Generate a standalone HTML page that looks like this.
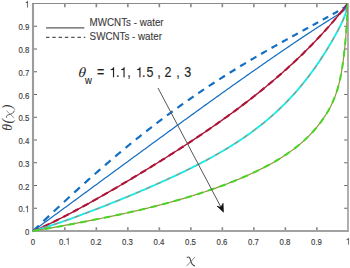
<!DOCTYPE html>
<html><head><meta charset="utf-8"><style>
html,body{margin:0;padding:0;background:#fff;}
body{width:350px;height:268px;overflow:hidden;font-family:"Liberation Sans",sans-serif;}
svg{display:block;}
</style></head><body>
<svg width="350" height="268" viewBox="0 0 350 268">
<path d="M33.0,231.0 H348.0" stroke="#a2a2a2" stroke-width="2.0"/>
<path d="M33.0,232.1 V3.5" stroke="#9c9c9c" stroke-width="2.1"/>
<path d="M32.0,3.5 H348.0" stroke="#8a8a8a" stroke-width="1.2"/>
<path d="M348.0,2.9 V232.1" stroke="#9c9c9c" stroke-width="1.6"/>
<path d="M64.85,230.0 v-2.8 M64.85,4.0 v3.3 M96.35,230.0 v-2.8 M96.35,4.0 v3.3 M127.85,230.0 v-2.8 M127.85,4.0 v3.3 M159.35,230.0 v-2.8 M159.35,4.0 v3.3 M190.85,230.0 v-2.8 M190.85,4.0 v3.3 M222.35,230.0 v-2.8 M222.35,4.0 v3.3 M253.85,230.0 v-2.8 M253.85,4.0 v3.3 M285.35,230.0 v-2.8 M285.35,4.0 v3.3 M316.85,230.0 v-2.8 M316.85,4.0 v3.3" stroke="#888" stroke-width="1.6" fill="none"/>
<path d="M34.0,208.25 h3 M347.2,208.25 h-3 M34.0,185.50 h3 M347.2,185.50 h-3 M34.0,162.75 h3 M347.2,162.75 h-3 M34.0,140.00 h3 M347.2,140.00 h-3 M34.0,117.25 h3 M347.2,117.25 h-3 M34.0,94.50 h3 M347.2,94.50 h-3 M34.0,71.75 h3 M347.2,71.75 h-3 M34.0,49.00 h3 M347.2,49.00 h-3 M34.0,26.25 h3 M347.2,26.25 h-3" stroke="#666" stroke-width="1.2" fill="none"/>
<g transform="translate(0,244.60) scale(1,1.22)" fill="#3a3a3a" stroke="#3a3a3a" stroke-width="0.12"><text y="0" font-family="Liberation Sans" font-size="7.8"><tspan x="30.83">0</tspan></text></g><g transform="translate(0,235.10) scale(1,1.22)" fill="#3a3a3a" stroke="#3a3a3a" stroke-width="0.12"><text y="0" font-family="Liberation Sans" font-size="7.8"><tspan x="24.91">0</tspan></text></g><g transform="translate(0,244.60) scale(1,1.22)" fill="#3a3a3a" stroke="#3a3a3a" stroke-width="0.12"><text y="0" font-family="Liberation Sans" font-size="7.8"><tspan x="59.08">0</tspan><tspan x="63.42">.</tspan></text><path d="M68.52,0 L68.52,-5.48 L68.06,-5.48 C67.92,-4.91 67.46,-4.56 66.44,-4.45 L66.44,-3.98 L67.89,-3.98 L67.89,0 Z"/></g><g transform="translate(0,212.35) scale(1,1.22)" fill="#3a3a3a" stroke="#3a3a3a" stroke-width="0.12"><text y="0" font-family="Liberation Sans" font-size="7.8"><tspan x="18.41">0</tspan><tspan x="22.74">.</tspan></text><path d="M27.84,0 L27.84,-5.48 L27.39,-5.48 C27.25,-4.91 26.78,-4.56 25.77,-4.45 L25.77,-3.98 L27.22,-3.98 L27.22,0 Z"/></g><g transform="translate(0,244.60) scale(1,1.22)" fill="#3a3a3a" stroke="#3a3a3a" stroke-width="0.12"><text y="0" font-family="Liberation Sans" font-size="7.8"><tspan x="90.58">0</tspan><tspan x="94.92">.</tspan><tspan x="97.08">2</tspan></text></g><g transform="translate(0,189.60) scale(1,1.22)" fill="#3a3a3a" stroke="#3a3a3a" stroke-width="0.12"><text y="0" font-family="Liberation Sans" font-size="7.8"><tspan x="18.41">0</tspan><tspan x="22.74">.</tspan><tspan x="24.91">2</tspan></text></g><g transform="translate(0,244.60) scale(1,1.22)" fill="#3a3a3a" stroke="#3a3a3a" stroke-width="0.12"><text y="0" font-family="Liberation Sans" font-size="7.8"><tspan x="122.08">0</tspan><tspan x="126.42">.</tspan><tspan x="128.58">3</tspan></text></g><g transform="translate(0,166.85) scale(1,1.22)" fill="#3a3a3a" stroke="#3a3a3a" stroke-width="0.12"><text y="0" font-family="Liberation Sans" font-size="7.8"><tspan x="18.41">0</tspan><tspan x="22.74">.</tspan><tspan x="24.91">3</tspan></text></g><g transform="translate(0,244.60) scale(1,1.22)" fill="#3a3a3a" stroke="#3a3a3a" stroke-width="0.12"><text y="0" font-family="Liberation Sans" font-size="7.8"><tspan x="153.58">0</tspan><tspan x="157.92">.</tspan><tspan x="160.08">4</tspan></text></g><g transform="translate(0,144.10) scale(1,1.22)" fill="#3a3a3a" stroke="#3a3a3a" stroke-width="0.12"><text y="0" font-family="Liberation Sans" font-size="7.8"><tspan x="18.41">0</tspan><tspan x="22.74">.</tspan><tspan x="24.91">4</tspan></text></g><g transform="translate(0,244.60) scale(1,1.22)" fill="#3a3a3a" stroke="#3a3a3a" stroke-width="0.12"><text y="0" font-family="Liberation Sans" font-size="7.8"><tspan x="185.08">0</tspan><tspan x="189.42">.</tspan><tspan x="191.58">5</tspan></text></g><g transform="translate(0,121.35) scale(1,1.22)" fill="#3a3a3a" stroke="#3a3a3a" stroke-width="0.12"><text y="0" font-family="Liberation Sans" font-size="7.8"><tspan x="18.41">0</tspan><tspan x="22.74">.</tspan><tspan x="24.91">5</tspan></text></g><g transform="translate(0,244.60) scale(1,1.22)" fill="#3a3a3a" stroke="#3a3a3a" stroke-width="0.12"><text y="0" font-family="Liberation Sans" font-size="7.8"><tspan x="216.58">0</tspan><tspan x="220.92">.</tspan><tspan x="223.08">6</tspan></text></g><g transform="translate(0,98.60) scale(1,1.22)" fill="#3a3a3a" stroke="#3a3a3a" stroke-width="0.12"><text y="0" font-family="Liberation Sans" font-size="7.8"><tspan x="18.41">0</tspan><tspan x="22.74">.</tspan><tspan x="24.91">6</tspan></text></g><g transform="translate(0,244.60) scale(1,1.22)" fill="#3a3a3a" stroke="#3a3a3a" stroke-width="0.12"><text y="0" font-family="Liberation Sans" font-size="7.8"><tspan x="248.08">0</tspan><tspan x="252.42">.</tspan><tspan x="254.58">7</tspan></text></g><g transform="translate(0,75.85) scale(1,1.22)" fill="#3a3a3a" stroke="#3a3a3a" stroke-width="0.12"><text y="0" font-family="Liberation Sans" font-size="7.8"><tspan x="18.41">0</tspan><tspan x="22.74">.</tspan><tspan x="24.91">7</tspan></text></g><g transform="translate(0,244.60) scale(1,1.22)" fill="#3a3a3a" stroke="#3a3a3a" stroke-width="0.12"><text y="0" font-family="Liberation Sans" font-size="7.8"><tspan x="279.58">0</tspan><tspan x="283.92">.</tspan><tspan x="286.08">8</tspan></text></g><g transform="translate(0,53.10) scale(1,1.22)" fill="#3a3a3a" stroke="#3a3a3a" stroke-width="0.12"><text y="0" font-family="Liberation Sans" font-size="7.8"><tspan x="18.41">0</tspan><tspan x="22.74">.</tspan><tspan x="24.91">8</tspan></text></g><g transform="translate(0,244.60) scale(1,1.22)" fill="#3a3a3a" stroke="#3a3a3a" stroke-width="0.12"><text y="0" font-family="Liberation Sans" font-size="7.8"><tspan x="311.08">0</tspan><tspan x="315.42">.</tspan><tspan x="317.58">9</tspan></text></g><g transform="translate(0,30.35) scale(1,1.22)" fill="#3a3a3a" stroke="#3a3a3a" stroke-width="0.12"><text y="0" font-family="Liberation Sans" font-size="7.8"><tspan x="18.41">0</tspan><tspan x="22.74">.</tspan><tspan x="24.91">9</tspan></text></g><g transform="translate(0,244.60) scale(1,1.22)" fill="#3a3a3a" stroke="#3a3a3a" stroke-width="0.12"><path d="M348.76,0 L348.76,-5.48 L348.31,-5.48 C348.17,-4.91 347.70,-4.56 346.69,-4.45 L346.69,-3.98 L348.14,-3.98 L348.14,0 Z"/></g><g transform="translate(0,7.60) scale(1,1.22)" fill="#3a3a3a" stroke="#3a3a3a" stroke-width="0.12"><path d="M27.84,0 L27.84,-5.48 L27.39,-5.48 C27.25,-4.91 26.78,-4.56 25.77,-4.45 L25.77,-3.98 L27.22,-3.98 L27.22,0 Z"/></g>
<defs><clipPath id="pc"><rect x="31.5" y="3.3" width="316.5" height="229.0"/></clipPath></defs><g clip-path="url(#pc)">
<path d="M33.00,231.00 L34.32,230.04 L35.64,229.07 L36.95,228.11 L38.27,227.15 L39.59,226.19 L40.91,225.22 L42.23,224.26 L43.54,223.29 L44.86,222.33 L46.18,221.37 L47.50,220.40 L48.82,219.44 L50.13,218.47 L51.45,217.51 L52.77,216.54 L54.09,215.58 L55.41,214.61 L56.72,213.65 L58.04,212.68 L59.36,211.71 L60.68,210.75 L62.00,209.78 L63.31,208.82 L64.63,207.85 L65.95,206.88 L67.27,205.92 L68.59,204.95 L69.90,203.98 L71.22,203.02 L72.54,202.05 L73.86,201.08 L75.18,200.12 L76.49,199.15 L77.81,198.18 L79.13,197.21 L80.45,196.25 L81.77,195.28 L83.08,194.31 L84.40,193.34 L85.72,192.38 L87.04,191.41 L88.36,190.44 L89.67,189.47 L90.99,188.51 L92.31,187.54 L93.63,186.57 L94.95,185.60 L96.26,184.64 L97.58,183.67 L98.90,182.70 L100.22,181.73 L101.54,180.77 L102.85,179.80 L104.17,178.83 L105.49,177.86 L106.81,176.90 L108.13,175.93 L109.44,174.96 L110.76,173.99 L112.08,173.03 L113.40,172.06 L114.72,171.09 L116.03,170.12 L117.35,169.16 L118.67,168.19 L119.99,167.22 L121.31,166.26 L122.62,165.29 L123.94,164.32 L125.26,163.36 L126.58,162.39 L127.90,161.43 L129.21,160.46 L130.53,159.49 L131.85,158.53 L133.17,157.56 L134.49,156.60 L135.80,155.63 L137.12,154.67 L138.44,153.70 L139.76,152.74 L141.08,151.77 L142.39,150.81 L143.71,149.85 L145.03,148.88 L146.35,147.92 L147.67,146.96 L148.98,145.99 L150.30,145.03 L151.62,144.07 L152.94,143.10 L154.26,142.14 L155.57,141.18 L156.89,140.22 L158.21,139.26 L159.53,138.30 L160.85,137.34 L162.16,136.38 L163.48,135.41 L164.80,134.45 L166.12,133.50 L167.44,132.54 L168.75,131.58 L170.07,130.62 L171.39,129.66 L172.71,128.70 L174.03,127.74 L175.34,126.79 L176.66,125.83 L177.98,124.87 L179.30,123.92 L180.62,122.96 L181.93,122.01 L183.25,121.05 L184.57,120.10 L185.89,119.14 L187.21,118.19 L188.52,117.23 L189.84,116.28 L191.16,115.33 L192.48,114.38 L193.79,113.42 L195.11,112.47 L196.43,111.52 L197.75,110.57 L199.07,109.62 L200.38,108.67 L201.70,107.72 L203.02,106.78 L204.34,105.83 L205.66,104.88 L206.97,103.93 L208.29,102.99 L209.61,102.04 L210.93,101.10 L212.25,100.15 L213.56,99.21 L214.88,98.26 L216.20,97.32 L217.52,96.38 L218.84,95.44 L220.15,94.49 L221.47,93.55 L222.79,92.61 L224.11,91.67 L225.43,90.73 L226.74,89.80 L228.06,88.86 L229.38,87.92 L230.70,86.99 L232.02,86.05 L233.33,85.11 L234.65,84.18 L235.97,83.25 L237.29,82.31 L238.61,81.38 L239.92,80.45 L241.24,79.52 L242.56,78.59 L243.88,77.66 L245.20,76.73 L246.51,75.80 L247.83,74.88 L249.15,73.95 L250.47,73.03 L251.79,72.10 L253.10,71.18 L254.42,70.25 L255.74,69.33 L257.06,68.41 L258.38,67.49 L259.69,66.57 L261.01,65.65 L262.33,64.74 L263.65,63.82 L264.97,62.90 L266.28,61.99 L267.60,61.08 L268.92,60.16 L270.24,59.25 L271.56,58.34 L272.87,57.43 L274.19,56.52 L275.51,55.62 L276.83,54.71 L278.15,53.81 L279.46,52.90 L280.78,52.00 L282.10,51.10 L283.42,50.20 L284.74,49.30 L286.05,48.40 L287.37,47.51 L288.69,46.61 L290.01,45.72 L291.33,44.83 L292.64,43.93 L293.96,43.05 L295.28,42.16 L296.60,41.27 L297.92,40.39 L299.23,39.51 L300.55,38.62 L301.87,37.75 L303.19,36.87 L304.51,35.99 L305.82,35.12 L307.14,34.25 L308.46,33.38 L309.78,32.51 L311.10,31.65 L312.41,30.78 L313.73,29.92 L315.05,29.06 L316.37,28.21 L316.50,28.12 L317.69,27.35 L319.00,26.50 L319.98,25.88 L320.32,25.66 L321.64,24.81 L322.96,23.97 L323.08,23.90 L324.28,23.13 L325.59,22.30 L325.83,22.15 L326.91,21.47 L328.23,20.64 L328.28,20.61 L329.55,19.82 L330.46,19.25 L330.87,19.00 L332.18,18.18 L332.40,18.05 L333.50,17.37 L334.12,16.99 L334.82,16.56 L335.65,16.05 L336.14,15.76 L337.02,15.22 L337.46,14.95 L338.23,14.47 L338.77,14.13 L339.31,13.80 L340.09,13.30 L340.27,13.18 L341.12,12.61 L341.41,12.42 L341.88,12.08 L342.56,11.58 L342.73,11.45 L343.16,11.10 L343.70,10.64 L344.05,10.31 L344.17,10.19 L344.59,9.76 L344.97,9.33 L345.31,8.92 L345.36,8.85 L345.60,8.53 L345.87,8.14 L346.10,7.78 L346.31,7.43 L346.50,7.10 L346.67,6.79 L346.68,6.76 L346.81,6.50 L346.94,6.23 L347.06,5.97 L347.16,5.74 L347.26,5.52 L347.34,5.33 L347.41,5.15 L347.48,4.98 L347.53,4.83 L347.59,4.70 L347.63,4.57 L347.67,4.46 L347.71,4.36 L347.74,4.27 L347.77,4.19 L347.79,4.12 L347.82,4.05 L347.84,3.99 L347.86,3.94 L347.87,3.89 L347.89,3.85 L347.90,3.81 L347.91,3.78 L347.92,3.75 L347.93,3.72 L347.94,3.70 L347.94,3.67 L347.95,3.66 L347.96,3.64 L347.96,3.62 L347.96,3.61 L347.97,3.60 L348.00,3.50" stroke="#1670c2" stroke-width="1.25" fill="none"/>
<path d="M33.11,230.90 L33.93,230.14 L34.74,229.38 L35.56,228.62 L36.38,227.85 L37.19,227.09 L38.01,226.32 L38.82,225.56 M43.46,221.18 L44.27,220.42 L45.08,219.66 L45.89,218.90 L46.69,218.13 L47.50,217.37 L48.31,216.61 L49.12,215.85 M53.73,211.51 L54.54,210.76 L55.34,210.01 L56.15,209.25 L56.95,208.50 L57.76,207.75 L58.56,207.00 L59.37,206.24 M63.98,201.96 L64.78,201.22 L65.58,200.47 L66.39,199.73 L67.19,198.99 L68.00,198.25 L68.80,197.51 L69.61,196.77 M74.21,192.55 L75.01,191.82 L75.82,191.08 L76.62,190.35 L77.42,189.62 L78.23,188.89 L79.03,188.16 L79.84,187.43 M84.45,183.28 L85.25,182.56 L86.05,181.85 L86.86,181.13 L87.66,180.41 L88.47,179.69 L89.27,178.97 L90.08,178.26 M94.69,174.18 L95.50,173.48 L96.30,172.77 L97.11,172.06 L97.91,171.36 L98.72,170.65 L99.53,169.95 L100.33,169.25 M104.95,165.25 L105.76,164.55 L106.56,163.86 L107.37,163.17 L108.18,162.48 L108.99,161.79 L109.79,161.10 L110.60,160.41 M115.23,156.49 L116.04,155.81 L116.85,155.13 L117.65,154.45 L118.46,153.77 L119.27,153.10 L120.08,152.42 L120.89,151.75 M125.53,147.91 L126.34,147.24 L127.15,146.58 L127.96,145.91 L128.77,145.25 L129.58,144.59 L130.39,143.93 L131.20,143.27 M135.85,139.51 L136.66,138.86 L137.47,138.21 L138.29,137.56 L139.10,136.92 L139.91,136.27 L140.73,135.62 L141.54,134.98 M146.20,131.31 L147.01,130.67 L147.82,130.04 L148.64,129.40 L149.45,128.77 L150.27,128.14 L151.08,127.51 L151.90,126.88 M156.57,123.30 L157.38,122.68 L158.20,122.06 L159.01,121.44 L159.83,120.82 L160.65,120.20 L161.47,119.59 L162.28,118.97 M166.96,115.48 L167.78,114.87 L168.60,114.27 L169.41,113.67 L170.23,113.07 L171.05,112.46 L171.87,111.86 L172.69,111.26 M177.38,107.86 L178.20,107.27 L179.02,106.68 L179.84,106.10 L180.66,105.51 L181.48,104.92 L182.30,104.34 L183.12,103.76 M187.82,100.44 L188.64,99.87 L189.46,99.30 L190.28,98.73 L191.10,98.16 L191.92,97.59 L192.74,97.02 L193.57,96.45 M198.27,93.23 L199.09,92.67 L199.92,92.11 L200.74,91.55 L201.56,91.00 L202.38,90.45 L203.21,89.89 L204.03,89.34 M208.74,86.21 L209.56,85.66 L210.39,85.12 L211.21,84.58 L212.03,84.04 L212.86,83.50 L213.68,82.97 L214.51,82.43 M219.22,79.38 L220.05,78.86 L220.87,78.33 L221.69,77.81 L222.51,77.28 L223.34,76.76 L224.16,76.24 L224.99,75.71 M229.71,72.75 L230.53,72.24 L231.35,71.73 L232.18,71.22 L233.00,70.71 L233.82,70.20 L234.65,69.69 L235.47,69.19 M240.19,66.31 L241.01,65.81 L241.83,65.31 L242.66,64.82 L243.48,64.32 L244.30,63.83 L245.13,63.33 L245.95,62.84 M250.66,60.04 L251.48,59.55 L252.30,59.07 L253.12,58.59 L253.95,58.10 L254.77,57.62 L255.59,57.14 L256.41,56.66 M261.11,53.93 L261.93,53.46 L262.75,52.99 L263.57,52.52 L264.39,52.05 L265.21,51.58 L266.03,51.11 L266.85,50.64 M271.54,47.98 L272.35,47.52 L273.17,47.06 L273.99,46.60 L274.80,46.14 L275.62,45.68 L276.44,45.22 L277.25,44.76 M281.92,42.16 L282.73,41.70 L283.55,41.25 L284.36,40.80 L285.17,40.35 L285.99,39.90 L286.80,39.45 L287.61,39.00 M292.25,36.45 L293.06,36.00 L293.87,35.56 L294.68,35.12 L295.49,34.67 L296.29,34.23 L297.10,33.79 L297.91,33.34 M302.52,30.82 L303.32,30.38 L304.12,29.95 L304.93,29.51 L305.73,29.07 L306.53,28.63 L307.33,28.20 L308.13,27.76 M312.71,25.26 L313.50,24.83 L314.30,24.39 L315.09,23.96 L315.88,23.52 L316.68,23.09 L317.47,22.65 L318.27,22.22 M322.79,19.73 L323.58,19.30 L324.37,18.86 L325.15,18.43 L325.94,18.00 L326.73,17.56 L327.51,17.13 L328.30,16.69 M332.77,14.20 L333.55,13.77 L334.32,13.33 L335.10,12.89 L335.87,12.46 L336.65,12.02 L337.42,11.58 L338.19,11.13 M342.55,8.53 L343.28,8.04 L344.01,7.54 L344.71,7.01 L345.40,6.45 L346.05,5.86 L346.67,5.23 L347.24,4.56" stroke="#1670c2" stroke-width="2.2" fill="none"/>
<path d="M33.00,231.00 L34.32,230.52 L35.64,230.00 L36.95,229.47 L38.27,228.92 L39.59,228.36 L40.91,227.78 L42.23,227.20 L43.54,226.60 L44.86,226.00 L46.18,225.39 L47.50,224.78 L48.82,224.15 L50.13,223.53 L51.45,222.89 L52.77,222.25 L54.09,221.61 L55.41,220.96 L56.72,220.30 L58.04,219.64 L59.36,218.98 L60.68,218.31 L62.00,217.64 L63.31,216.97 L64.63,216.29 L65.95,215.61 L67.27,214.92 L68.59,214.23 L69.90,213.54 L71.22,212.85 L72.54,212.15 L73.86,211.45 L75.18,210.74 L76.49,210.04 L77.81,209.33 L79.13,208.62 L80.45,207.90 L81.77,207.19 L83.08,206.47 L84.40,205.75 L85.72,205.02 L87.04,204.30 L88.36,203.57 L89.67,202.84 L90.99,202.11 L92.31,201.37 L93.63,200.64 L94.95,199.90 L96.26,199.16 L97.58,198.42 L98.90,197.67 L100.22,196.93 L101.54,196.18 L102.85,195.43 L104.17,194.68 L105.49,193.92 L106.81,193.17 L108.13,192.41 L109.44,191.65 L110.76,190.89 L112.08,190.13 L113.40,189.37 L114.72,188.60 L116.03,187.84 L117.35,187.07 L118.67,186.30 L119.99,185.52 L121.31,184.75 L122.62,183.98 L123.94,183.20 L125.26,182.42 L126.58,181.64 L127.90,180.86 L129.21,180.07 L130.53,179.29 L131.85,178.50 L133.17,177.72 L134.49,176.93 L135.80,176.13 L137.12,175.34 L138.44,174.55 L139.76,173.75 L141.08,172.95 L142.39,172.15 L143.71,171.35 L145.03,170.55 L146.35,169.74 L147.67,168.94 L148.98,168.13 L150.30,167.32 L151.62,166.51 L152.94,165.70 L154.26,164.88 L155.57,164.07 L156.89,163.25 L158.21,162.43 L159.53,161.61 L160.85,160.78 L162.16,159.96 L163.48,159.13 L164.80,158.30 L166.12,157.47 L167.44,156.64 L168.75,155.81 L170.07,154.97 L171.39,154.13 L172.71,153.29 L174.03,152.45 L175.34,151.61 L176.66,150.76 L177.98,149.91 L179.30,149.06 L180.62,148.21 L181.93,147.35 L183.25,146.50 L184.57,145.64 L185.89,144.78 L187.21,143.91 L188.52,143.05 L189.84,142.18 L191.16,141.31 L192.48,140.44 L193.79,139.56 L195.11,138.69 L196.43,137.81 L197.75,136.93 L199.07,136.04 L200.38,135.15 L201.70,134.26 L203.02,133.37 L204.34,132.48 L205.66,131.58 L206.97,130.68 L208.29,129.77 L209.61,128.87 L210.93,127.96 L212.25,127.04 L213.56,126.13 L214.88,125.21 L216.20,124.29 L217.52,123.37 L218.84,122.44 L220.15,121.51 L221.47,120.57 L222.79,119.63 L224.11,118.69 L225.43,117.75 L226.74,116.80 L228.06,115.85 L229.38,114.90 L230.70,113.94 L232.02,112.97 L233.33,112.01 L234.65,111.04 L235.97,110.06 L237.29,109.09 L238.61,108.10 L239.92,107.12 L241.24,106.13 L242.56,105.13 L243.88,104.13 L245.20,103.13 L246.51,102.12 L247.83,101.11 L249.15,100.09 L250.47,99.07 L251.79,98.05 L253.10,97.01 L254.42,95.98 L255.74,94.94 L257.06,93.89 L258.38,92.84 L259.69,91.78 L261.01,90.72 L262.33,89.66 L263.65,88.58 L264.97,87.50 L266.28,86.42 L267.60,85.33 L268.92,84.24 L270.24,83.13 L271.56,82.03 L272.87,80.91 L274.19,79.79 L275.51,78.67 L276.83,77.54 L278.15,76.40 L279.46,75.25 L280.78,74.10 L282.10,72.94 L283.42,71.78 L284.74,70.60 L286.05,69.42 L287.37,68.23 L288.69,67.04 L290.01,65.84 L291.33,64.63 L292.64,63.41 L293.96,62.19 L295.28,60.95 L296.60,59.71 L297.92,58.46 L299.23,57.20 L300.55,55.94 L301.87,54.66 L303.19,53.38 L304.51,52.09 L305.82,50.78 L307.14,49.47 L308.46,48.15 L309.78,46.82 L311.10,45.49 L312.41,44.14 L313.73,42.78 L315.05,41.41 L316.37,40.03 L316.50,39.89 L317.69,38.64 L319.00,37.24 L319.98,36.20 L320.32,35.83 L321.64,34.41 L322.96,32.98 L323.08,32.85 L324.28,31.54 L325.59,30.09 L325.83,29.83 L326.91,28.62 L328.23,27.15 L328.28,27.09 L329.55,25.66 L330.46,24.62 L330.87,24.16 L332.18,22.65 L332.40,22.40 L333.50,21.12 L334.12,20.40 L334.82,19.59 L335.65,18.61 L336.14,18.04 L337.02,17.00 L337.46,16.48 L338.23,15.55 L338.77,14.90 L339.31,14.26 L340.09,13.31 L340.27,13.10 L341.12,12.06 L341.41,11.71 L341.88,11.13 L342.56,10.30 L342.73,10.10 L343.16,9.56 L343.70,8.90 L344.05,8.47 L344.17,8.31 L344.59,7.79 L344.97,7.32 L345.31,6.90 L345.36,6.83 L345.60,6.53 L345.87,6.20 L346.10,5.90 L346.31,5.64 L346.50,5.40 L346.67,5.19 L346.68,5.17 L346.81,5.01 L346.94,4.84 L347.06,4.69 L347.16,4.56 L347.26,4.44 L347.34,4.34 L347.41,4.25 L347.48,4.16 L347.53,4.09 L347.59,4.03 L347.63,3.97 L347.67,3.92 L347.71,3.87 L347.74,3.83 L347.77,3.79 L347.79,3.76 L347.82,3.73 L347.84,3.71 L347.86,3.68 L347.87,3.66 L347.89,3.65 L347.90,3.63 L347.91,3.61 L347.92,3.60 L347.93,3.59 L347.94,3.58 L347.94,3.57 L347.95,3.56 L347.96,3.56 L347.96,3.55 L347.96,3.55 L347.97,3.54 L348.00,3.50" stroke="#ad1538" stroke-width="1.4" fill="none"/>
<path d="M33.00,231.00 L34.32,230.52 L35.64,230.00 L36.95,229.47 L38.27,228.92 L39.59,228.36 L40.91,227.78 L42.23,227.20 L43.54,226.60 L44.86,226.00 L46.18,225.39 L47.50,224.78 L48.82,224.15 L50.13,223.53 L51.45,222.89 L52.77,222.25 L54.09,221.61 L55.41,220.96 L56.72,220.30 L58.04,219.64 L59.36,218.98 L60.68,218.31 L62.00,217.64 L63.31,216.97 L64.63,216.29 L65.95,215.61 L67.27,214.92 L68.59,214.23 L69.90,213.54 L71.22,212.85 L72.54,212.15 L73.86,211.45 L75.18,210.74 L76.49,210.04 L77.81,209.33 L79.13,208.62 L80.45,207.90 L81.77,207.19 L83.08,206.47 L84.40,205.75 L85.72,205.02 L87.04,204.30 L88.36,203.57 L89.67,202.84 L90.99,202.11 L92.31,201.37 L93.63,200.64 L94.95,199.90 L96.26,199.16 L97.58,198.42 L98.90,197.67 L100.22,196.93 L101.54,196.18 L102.85,195.43 L104.17,194.68 L105.49,193.92 L106.81,193.17 L108.13,192.41 L109.44,191.65 L110.76,190.89 L112.08,190.13 L113.40,189.37 L114.72,188.60 L116.03,187.84 L117.35,187.07 L118.67,186.30 L119.99,185.52 L121.31,184.75 L122.62,183.98 L123.94,183.20 L125.26,182.42 L126.58,181.64 L127.90,180.86 L129.21,180.07 L130.53,179.29 L131.85,178.50 L133.17,177.72 L134.49,176.93 L135.80,176.13 L137.12,175.34 L138.44,174.55 L139.76,173.75 L141.08,172.95 L142.39,172.15 L143.71,171.35 L145.03,170.55 L146.35,169.74 L147.67,168.94 L148.98,168.13 L150.30,167.32 L151.62,166.51 L152.94,165.70 L154.26,164.88 L155.57,164.07 L156.89,163.25 L158.21,162.43 L159.53,161.61 L160.85,160.78 L162.16,159.96 L163.48,159.13 L164.80,158.30 L166.12,157.47 L167.44,156.64 L168.75,155.81 L170.07,154.97 L171.39,154.13 L172.71,153.29 L174.03,152.45 L175.34,151.61 L176.66,150.76 L177.98,149.91 L179.30,149.06 L180.62,148.21 L181.93,147.35 L183.25,146.50 L184.57,145.64 L185.89,144.78 L187.21,143.91 L188.52,143.05 L189.84,142.18 L191.16,141.31 L192.48,140.44 L193.79,139.56 L195.11,138.69 L196.43,137.81 L197.75,136.93 L199.07,136.04 L200.38,135.15 L201.70,134.26 L203.02,133.37 L204.34,132.48 L205.66,131.58 L206.97,130.68 L208.29,129.77 L209.61,128.87 L210.93,127.96 L212.25,127.04 L213.56,126.13 L214.88,125.21 L216.20,124.29 L217.52,123.37 L218.84,122.44 L220.15,121.51 L221.47,120.57 L222.79,119.63 L224.11,118.69 L225.43,117.75 L226.74,116.80 L228.06,115.85 L229.38,114.90 L230.70,113.94 L232.02,112.97 L233.33,112.01 L234.65,111.04 L235.97,110.06 L237.29,109.09 L238.61,108.10 L239.92,107.12 L241.24,106.13 L242.56,105.13 L243.88,104.13 L245.20,103.13 L246.51,102.12 L247.83,101.11 L249.15,100.09 L250.47,99.07 L251.79,98.05 L253.10,97.01 L254.42,95.98 L255.74,94.94 L257.06,93.89 L258.38,92.84 L259.69,91.78 L261.01,90.72 L262.33,89.66 L263.65,88.58 L264.97,87.50 L266.28,86.42 L267.60,85.33 L268.92,84.24 L270.24,83.13 L271.56,82.03 L272.87,80.91 L274.19,79.79 L275.51,78.67 L276.83,77.54 L278.15,76.40 L279.46,75.25 L280.78,74.10 L282.10,72.94 L283.42,71.78 L284.74,70.60 L286.05,69.42 L287.37,68.23 L288.69,67.04 L290.01,65.84 L291.33,64.63 L292.64,63.41 L293.96,62.19 L295.28,60.95 L296.60,59.71 L297.92,58.46 L299.23,57.20 L300.55,55.94 L301.87,54.66 L303.19,53.38 L304.51,52.09 L305.82,50.78 L307.14,49.47 L308.46,48.15 L309.78,46.82 L311.10,45.49 L312.41,44.14 L313.73,42.78 L315.05,41.41 L316.37,40.03 L316.50,39.89 L317.69,38.64 L319.00,37.24 L319.98,36.20 L320.32,35.83 L321.64,34.41 L322.96,32.98 L323.08,32.85 L324.28,31.54 L325.59,30.09 L325.83,29.83 L326.91,28.62 L328.23,27.15 L328.28,27.09 L329.55,25.66 L330.46,24.62 L330.87,24.16 L332.18,22.65 L332.40,22.40 L333.50,21.12 L334.12,20.40 L334.82,19.59 L335.65,18.61 L336.14,18.04 L337.02,17.00 L337.46,16.48 L338.23,15.55 L338.77,14.90 L339.31,14.26 L340.09,13.31 L340.27,13.10 L341.12,12.06 L341.41,11.71 L341.88,11.13 L342.56,10.30 L342.73,10.10 L343.16,9.56 L343.70,8.90 L344.05,8.47 L344.17,8.31 L344.59,7.79 L344.97,7.32 L345.31,6.90 L345.36,6.83 L345.60,6.53 L345.87,6.20 L346.10,5.90 L346.31,5.64 L346.50,5.40 L346.67,5.19 L346.68,5.17 L346.81,5.01 L346.94,4.84 L347.06,4.69 L347.16,4.56 L347.26,4.44 L347.34,4.34 L347.41,4.25 L347.48,4.16 L347.53,4.09 L347.59,4.03 L347.63,3.97 L347.67,3.92 L347.71,3.87 L347.74,3.83 L347.77,3.79 L347.79,3.76 L347.82,3.73 L347.84,3.71 L347.86,3.68 L347.87,3.66 L347.89,3.65 L347.90,3.63 L347.91,3.61 L347.92,3.60 L347.93,3.59 L347.94,3.58 L347.94,3.57 L347.95,3.56 L347.96,3.56 L347.96,3.55 L347.96,3.55 L347.97,3.54 L348.00,3.50" stroke="#ad1538" stroke-width="2.1" stroke-dasharray="6.4 4.7" fill="none"/>
<path d="M33.00,231.00 L34.32,230.66 L35.64,230.29 L36.95,229.92 L38.27,229.54 L39.59,229.15 L40.91,228.75 L42.23,228.35 L43.54,227.94 L44.86,227.53 L46.18,227.11 L47.50,226.69 L48.82,226.26 L50.13,225.83 L51.45,225.40 L52.77,224.96 L54.09,224.52 L55.41,224.08 L56.72,223.63 L58.04,223.19 L59.36,222.73 L60.68,222.28 L62.00,221.82 L63.31,221.36 L64.63,220.90 L65.95,220.44 L67.27,219.97 L68.59,219.50 L69.90,219.03 L71.22,218.55 L72.54,218.08 L73.86,217.60 L75.18,217.12 L76.49,216.64 L77.81,216.15 L79.13,215.67 L80.45,215.18 L81.77,214.69 L83.08,214.20 L84.40,213.71 L85.72,213.21 L87.04,212.71 L88.36,212.22 L89.67,211.71 L90.99,211.21 L92.31,210.71 L93.63,210.20 L94.95,209.70 L96.26,209.19 L97.58,208.68 L98.90,208.16 L100.22,207.65 L101.54,207.14 L102.85,206.62 L104.17,206.10 L105.49,205.58 L106.81,205.06 L108.13,204.54 L109.44,204.01 L110.76,203.49 L112.08,202.96 L113.40,202.43 L114.72,201.90 L116.03,201.37 L117.35,200.83 L118.67,200.30 L119.99,199.76 L121.31,199.22 L122.62,198.68 L123.94,198.14 L125.26,197.60 L126.58,197.05 L127.90,196.51 L129.21,195.96 L130.53,195.41 L131.85,194.86 L133.17,194.31 L134.49,193.76 L135.80,193.20 L137.12,192.64 L138.44,192.09 L139.76,191.52 L141.08,190.96 L142.39,190.40 L143.71,189.83 L145.03,189.27 L146.35,188.70 L147.67,188.13 L148.98,187.55 L150.30,186.98 L151.62,186.40 L152.94,185.83 L154.26,185.25 L155.57,184.66 L156.89,184.08 L158.21,183.49 L159.53,182.90 L160.85,182.31 L162.16,181.72 L163.48,181.13 L164.80,180.53 L166.12,179.93 L167.44,179.33 L168.75,178.72 L170.07,178.12 L171.39,177.51 L172.71,176.90 L174.03,176.28 L175.34,175.66 L176.66,175.04 L177.98,174.42 L179.30,173.80 L180.62,173.17 L181.93,172.54 L183.25,171.90 L184.57,171.27 L185.89,170.62 L187.21,169.98 L188.52,169.33 L189.84,168.68 L191.16,168.03 L192.48,167.37 L193.79,166.71 L195.11,166.04 L196.43,165.37 L197.75,164.70 L199.07,164.02 L200.38,163.34 L201.70,162.65 L203.02,161.96 L204.34,161.27 L205.66,160.57 L206.97,159.86 L208.29,159.15 L209.61,158.44 L210.93,157.72 L212.25,156.99 L213.56,156.26 L214.88,155.53 L216.20,154.79 L217.52,154.04 L218.84,153.28 L220.15,152.53 L221.47,151.76 L222.79,150.99 L224.11,150.21 L225.43,149.42 L226.74,148.63 L228.06,147.83 L229.38,147.03 L230.70,146.21 L232.02,145.39 L233.33,144.56 L234.65,143.73 L235.97,142.88 L237.29,142.03 L238.61,141.17 L239.92,140.30 L241.24,139.42 L242.56,138.53 L243.88,137.63 L245.20,136.72 L246.51,135.81 L247.83,134.88 L249.15,133.94 L250.47,132.99 L251.79,132.04 L253.10,131.07 L254.42,130.09 L255.74,129.09 L257.06,128.09 L258.38,127.08 L259.69,126.05 L261.01,125.01 L262.33,123.96 L263.65,122.89 L264.97,121.81 L266.28,120.72 L267.60,119.61 L268.92,118.49 L270.24,117.35 L271.56,116.20 L272.87,115.04 L274.19,113.86 L275.51,112.66 L276.83,111.45 L278.15,110.22 L279.46,108.97 L280.78,107.71 L282.10,106.43 L283.42,105.13 L284.74,103.81 L286.05,102.48 L287.37,101.13 L288.69,99.75 L290.01,98.36 L291.33,96.95 L292.64,95.51 L293.96,94.06 L295.28,92.58 L296.60,91.08 L297.92,89.56 L299.23,88.02 L300.55,86.46 L301.87,84.87 L303.19,83.25 L304.51,81.62 L305.82,79.95 L307.14,78.27 L308.46,76.55 L309.78,74.81 L311.10,73.05 L312.41,71.25 L313.73,69.43 L315.05,67.58 L316.37,65.71 L316.50,65.52 L317.69,63.80 L319.00,61.86 L319.98,60.41 L320.32,59.89 L321.64,57.90 L322.96,55.87 L323.08,55.68 L324.28,53.81 L325.59,51.71 L325.83,51.34 L326.91,49.59 L328.23,47.43 L328.28,47.34 L329.55,45.23 L330.46,43.70 L330.87,43.00 L332.18,40.74 L332.40,40.37 L333.50,38.44 L334.12,37.34 L334.82,36.09 L335.65,34.59 L336.14,33.71 L337.02,32.09 L337.46,31.28 L338.23,29.83 L338.77,28.79 L339.31,27.76 L340.09,26.23 L340.27,25.88 L341.12,24.16 L341.41,23.57 L341.88,22.57 L342.56,21.11 L342.73,20.73 L343.16,19.75 L343.70,18.49 L344.05,17.62 L344.17,17.31 L344.59,16.20 L344.97,15.17 L345.31,14.20 L345.36,14.03 L345.60,13.30 L345.87,12.45 L346.10,11.67 L346.31,10.93 L346.50,10.25 L346.67,9.63 L346.68,9.56 L346.81,9.05 L346.94,8.51 L347.06,8.03 L347.16,7.58 L347.26,7.17 L347.34,6.80 L347.41,6.47 L347.48,6.16 L347.53,5.89 L347.59,5.64 L347.63,5.41 L347.67,5.21 L347.71,5.03 L347.74,4.87 L347.77,4.72 L347.79,4.59 L347.82,4.47 L347.84,4.37 L347.86,4.27 L347.87,4.19 L347.89,4.12 L347.90,4.05 L347.91,3.99 L347.92,3.94 L347.93,3.89 L347.94,3.85 L347.94,3.81 L347.95,3.77 L347.96,3.74 L347.96,3.72 L347.96,3.69 L347.97,3.67 L348.00,3.50" stroke="#1ee8e8" stroke-width="1.9" fill="none"/>
<path d="M33.00,231.00 L34.32,230.66 L35.64,230.29 L36.95,229.92 L38.27,229.54 L39.59,229.15 L40.91,228.75 L42.23,228.35 L43.54,227.94 L44.86,227.53 L46.18,227.11 L47.50,226.69 L48.82,226.26 L50.13,225.83 L51.45,225.40 L52.77,224.96 L54.09,224.52 L55.41,224.08 L56.72,223.63 L58.04,223.19 L59.36,222.73 L60.68,222.28 L62.00,221.82 L63.31,221.36 L64.63,220.90 L65.95,220.44 L67.27,219.97 L68.59,219.50 L69.90,219.03 L71.22,218.55 L72.54,218.08 L73.86,217.60 L75.18,217.12 L76.49,216.64 L77.81,216.15 L79.13,215.67 L80.45,215.18 L81.77,214.69 L83.08,214.20 L84.40,213.71 L85.72,213.21 L87.04,212.71 L88.36,212.22 L89.67,211.71 L90.99,211.21 L92.31,210.71 L93.63,210.20 L94.95,209.70 L96.26,209.19 L97.58,208.68 L98.90,208.16 L100.22,207.65 L101.54,207.14 L102.85,206.62 L104.17,206.10 L105.49,205.58 L106.81,205.06 L108.13,204.54 L109.44,204.01 L110.76,203.49 L112.08,202.96 L113.40,202.43 L114.72,201.90 L116.03,201.37 L117.35,200.83 L118.67,200.30 L119.99,199.76 L121.31,199.22 L122.62,198.68 L123.94,198.14 L125.26,197.60 L126.58,197.05 L127.90,196.51 L129.21,195.96 L130.53,195.41 L131.85,194.86 L133.17,194.31 L134.49,193.76 L135.80,193.20 L137.12,192.64 L138.44,192.09 L139.76,191.52 L141.08,190.96 L142.39,190.40 L143.71,189.83 L145.03,189.27 L146.35,188.70 L147.67,188.13 L148.98,187.55 L150.30,186.98 L151.62,186.40 L152.94,185.83 L154.26,185.25 L155.57,184.66 L156.89,184.08 L158.21,183.49 L159.53,182.90 L160.85,182.31 L162.16,181.72 L163.48,181.13 L164.80,180.53 L166.12,179.93 L167.44,179.33 L168.75,178.72 L170.07,178.12 L171.39,177.51 L172.71,176.90 L174.03,176.28 L175.34,175.66 L176.66,175.04 L177.98,174.42 L179.30,173.80 L180.62,173.17 L181.93,172.54 L183.25,171.90 L184.57,171.27 L185.89,170.62 L187.21,169.98 L188.52,169.33 L189.84,168.68 L191.16,168.03 L192.48,167.37 L193.79,166.71 L195.11,166.04 L196.43,165.37 L197.75,164.70 L199.07,164.02 L200.38,163.34 L201.70,162.65 L203.02,161.96 L204.34,161.27 L205.66,160.57 L206.97,159.86 L208.29,159.15 L209.61,158.44 L210.93,157.72 L212.25,156.99 L213.56,156.26 L214.88,155.53 L216.20,154.79 L217.52,154.04 L218.84,153.28 L220.15,152.53 L221.47,151.76 L222.79,150.99 L224.11,150.21 L225.43,149.42 L226.74,148.63 L228.06,147.83 L229.38,147.03 L230.70,146.21 L232.02,145.39 L233.33,144.56 L234.65,143.73 L235.97,142.88 L237.29,142.03 L238.61,141.17 L239.92,140.30 L241.24,139.42 L242.56,138.53 L243.88,137.63 L245.20,136.72 L246.51,135.81 L247.83,134.88 L249.15,133.94 L250.47,132.99 L251.79,132.04 L253.10,131.07 L254.42,130.09 L255.74,129.09 L257.06,128.09 L258.38,127.08 L259.69,126.05 L261.01,125.01 L262.33,123.96 L263.65,122.89 L264.97,121.81 L266.28,120.72 L267.60,119.61 L268.92,118.49 L270.24,117.35 L271.56,116.20 L272.87,115.04 L274.19,113.86 L275.51,112.66 L276.83,111.45 L278.15,110.22 L279.46,108.97 L280.78,107.71 L282.10,106.43 L283.42,105.13 L284.74,103.81 L286.05,102.48 L287.37,101.13 L288.69,99.75 L290.01,98.36 L291.33,96.95 L292.64,95.51 L293.96,94.06 L295.28,92.58 L296.60,91.08 L297.92,89.56 L299.23,88.02 L300.55,86.46 L301.87,84.87 L303.19,83.25 L304.51,81.62 L305.82,79.95 L307.14,78.27 L308.46,76.55 L309.78,74.81 L311.10,73.05 L312.41,71.25 L313.73,69.43 L315.05,67.58 L316.37,65.71 L316.50,65.52 L317.69,63.80 L319.00,61.86 L319.98,60.41 L320.32,59.89 L321.64,57.90 L322.96,55.87 L323.08,55.68 L324.28,53.81 L325.59,51.71 L325.83,51.34 L326.91,49.59 L328.23,47.43 L328.28,47.34 L329.55,45.23 L330.46,43.70 L330.87,43.00 L332.18,40.74 L332.40,40.37 L333.50,38.44 L334.12,37.34 L334.82,36.09 L335.65,34.59 L336.14,33.71 L337.02,32.09 L337.46,31.28 L338.23,29.83 L338.77,28.79 L339.31,27.76 L340.09,26.23 L340.27,25.88 L341.12,24.16 L341.41,23.57 L341.88,22.57 L342.56,21.11 L342.73,20.73 L343.16,19.75 L343.70,18.49 L344.05,17.62 L344.17,17.31 L344.59,16.20 L344.97,15.17 L345.31,14.20 L345.36,14.03 L345.60,13.30 L345.87,12.45 L346.10,11.67 L346.31,10.93 L346.50,10.25 L346.67,9.63 L346.68,9.56 L346.81,9.05 L346.94,8.51 L347.06,8.03 L347.16,7.58 L347.26,7.17 L347.34,6.80 L347.41,6.47 L347.48,6.16 L347.53,5.89 L347.59,5.64 L347.63,5.41 L347.67,5.21 L347.71,5.03 L347.74,4.87 L347.77,4.72 L347.79,4.59 L347.82,4.47 L347.84,4.37 L347.86,4.27 L347.87,4.19 L347.89,4.12 L347.90,4.05 L347.91,3.99 L347.92,3.94 L347.93,3.89 L347.94,3.85 L347.94,3.81 L347.95,3.77 L347.96,3.74 L347.96,3.72 L347.96,3.69 L347.97,3.67 L348.00,3.50" stroke="#a88a70" stroke-width="1.1" stroke-dasharray="4.4 6.6" fill="none"/>
<path d="M33.00,231.00 L34.32,230.80 L35.64,230.60 L36.95,230.38 L38.27,230.16 L39.59,229.94 L40.91,229.71 L42.23,229.49 L43.54,229.26 L44.86,229.02 L46.18,228.79 L47.50,228.56 L48.82,228.32 L50.13,228.08 L51.45,227.84 L52.77,227.61 L54.09,227.37 L55.41,227.13 L56.72,226.88 L58.04,226.64 L59.36,226.40 L60.68,226.16 L62.00,225.91 L63.31,225.67 L64.63,225.42 L65.95,225.18 L67.27,224.93 L68.59,224.68 L69.90,224.44 L71.22,224.19 L72.54,223.94 L73.86,223.69 L75.18,223.44 L76.49,223.19 L77.81,222.94 L79.13,222.69 L80.45,222.43 L81.77,222.18 L83.08,221.93 L84.40,221.67 L85.72,221.42 L87.04,221.16 L88.36,220.90 L89.67,220.65 L90.99,220.39 L92.31,220.13 L93.63,219.87 L94.95,219.60 L96.26,219.34 L97.58,219.08 L98.90,218.81 L100.22,218.55 L101.54,218.28 L102.85,218.01 L104.17,217.75 L105.49,217.48 L106.81,217.20 L108.13,216.93 L109.44,216.66 L110.76,216.38 L112.08,216.11 L113.40,215.83 L114.72,215.55 L116.03,215.27 L117.35,214.99 L118.67,214.71 L119.99,214.43 L121.31,214.14 L122.62,213.85 L123.94,213.56 L125.26,213.27 L126.58,212.98 L127.90,212.69 L129.21,212.39 L130.53,212.10 L131.85,211.80 L133.17,211.50 L134.49,211.20 L135.80,210.89 L137.12,210.59 L138.44,210.28 L139.76,209.97 L141.08,209.66 L142.39,209.35 L143.71,209.04 L145.03,208.72 L146.35,208.40 L147.67,208.08 L148.98,207.76 L150.30,207.43 L151.62,207.11 L152.94,206.78 L154.26,206.45 L155.57,206.11 L156.89,205.78 L158.21,205.44 L159.53,205.10 L160.85,204.76 L162.16,204.41 L163.48,204.06 L164.80,203.71 L166.12,203.36 L167.44,203.01 L168.75,202.65 L170.07,202.29 L171.39,201.93 L172.71,201.56 L174.03,201.20 L175.34,200.83 L176.66,200.46 L177.98,200.08 L179.30,199.70 L180.62,199.32 L181.93,198.94 L183.25,198.55 L184.57,198.16 L185.89,197.77 L187.21,197.37 L188.52,196.98 L189.84,196.57 L191.16,196.17 L192.48,195.76 L193.79,195.35 L195.11,194.94 L196.43,194.52 L197.75,194.10 L199.07,193.68 L200.38,193.25 L201.70,192.82 L203.02,192.39 L204.34,191.95 L205.66,191.51 L206.97,191.07 L208.29,190.62 L209.61,190.17 L210.93,189.72 L212.25,189.26 L213.56,188.79 L214.88,188.33 L216.20,187.86 L217.52,187.39 L218.84,186.91 L220.15,186.43 L221.47,185.94 L222.79,185.45 L224.11,184.96 L225.43,184.46 L226.74,183.95 L228.06,183.45 L229.38,182.93 L230.70,182.42 L232.02,181.90 L233.33,181.37 L234.65,180.84 L235.97,180.30 L237.29,179.76 L238.61,179.22 L239.92,178.66 L241.24,178.11 L242.56,177.54 L243.88,176.98 L245.20,176.40 L246.51,175.82 L247.83,175.24 L249.15,174.64 L250.47,174.04 L251.79,173.44 L253.10,172.83 L254.42,172.21 L255.74,171.58 L257.06,170.95 L258.38,170.31 L259.69,169.66 L261.01,169.00 L262.33,168.34 L263.65,167.66 L264.97,166.98 L266.28,166.29 L267.60,165.59 L268.92,164.88 L270.24,164.16 L271.56,163.43 L272.87,162.68 L274.19,161.93 L275.51,161.16 L276.83,160.39 L278.15,159.60 L279.46,158.79 L280.78,157.98 L282.10,157.15 L283.42,156.30 L284.74,155.44 L286.05,154.56 L287.37,153.67 L288.69,152.76 L290.01,151.83 L291.33,150.88 L292.64,149.91 L293.96,148.92 L295.28,147.91 L296.60,146.88 L297.92,145.82 L299.23,144.74 L300.55,143.63 L301.87,142.49 L303.19,141.33 L304.51,140.13 L305.82,138.91 L307.14,137.65 L308.46,136.35 L309.78,135.02 L311.10,133.65 L312.41,132.24 L313.73,130.78 L315.05,129.28 L316.37,127.73 L316.50,127.57 L317.69,126.13 L319.00,124.47 L319.98,123.20 L320.32,122.75 L321.64,120.97 L322.96,119.11 L323.08,118.94 L324.28,117.17 L325.59,115.15 L325.83,114.78 L326.91,113.03 L328.23,110.79 L328.28,110.70 L329.55,108.42 L330.46,106.69 L330.87,105.89 L332.18,103.17 L332.40,102.71 L333.50,100.22 L334.12,98.73 L334.82,96.97 L335.65,94.73 L336.14,93.35 L337.02,90.68 L337.46,89.25 L338.23,86.56 L338.77,84.54 L339.31,82.39 L340.09,79.00 L340.27,78.17 L341.12,73.92 L341.41,72.37 L341.88,69.65 L342.56,65.41 L342.73,64.28 L343.16,61.22 L343.70,57.12 L344.05,54.21 L344.17,53.13 L344.59,49.28 L344.97,45.60 L345.31,42.09 L345.36,41.46 L345.60,38.78 L345.87,35.67 L346.10,32.76 L346.31,30.06 L346.50,27.56 L346.67,25.25 L346.68,25.01 L346.81,23.13 L346.94,21.19 L347.06,19.43 L347.16,17.82 L347.26,16.35 L347.34,15.03 L347.41,13.83 L347.48,12.75 L347.53,11.78 L347.59,10.91 L347.63,10.12 L347.67,9.41 L347.71,8.78 L347.74,8.21 L347.77,7.70 L347.79,7.25 L347.82,6.84 L347.84,6.48 L347.86,6.16 L347.87,5.87 L347.89,5.61 L347.90,5.38 L347.91,5.17 L347.92,4.99 L347.93,4.83 L347.94,4.68 L347.94,4.55 L347.95,4.44 L347.96,4.33 L347.96,4.24 L347.96,4.16 L347.97,4.09 L348.00,3.50" stroke="#8a9a3c" stroke-width="1.2" fill="none"/>
<path d="M33.00,231.00 L34.32,230.80 L35.64,230.60 L36.95,230.38 L38.27,230.16 L39.59,229.94 L40.91,229.71 L42.23,229.49 L43.54,229.26 L44.86,229.02 L46.18,228.79 L47.50,228.56 L48.82,228.32 L50.13,228.08 L51.45,227.84 L52.77,227.61 L54.09,227.37 L55.41,227.13 L56.72,226.88 L58.04,226.64 L59.36,226.40 L60.68,226.16 L62.00,225.91 L63.31,225.67 L64.63,225.42 L65.95,225.18 L67.27,224.93 L68.59,224.68 L69.90,224.44 L71.22,224.19 L72.54,223.94 L73.86,223.69 L75.18,223.44 L76.49,223.19 L77.81,222.94 L79.13,222.69 L80.45,222.43 L81.77,222.18 L83.08,221.93 L84.40,221.67 L85.72,221.42 L87.04,221.16 L88.36,220.90 L89.67,220.65 L90.99,220.39 L92.31,220.13 L93.63,219.87 L94.95,219.60 L96.26,219.34 L97.58,219.08 L98.90,218.81 L100.22,218.55 L101.54,218.28 L102.85,218.01 L104.17,217.75 L105.49,217.48 L106.81,217.20 L108.13,216.93 L109.44,216.66 L110.76,216.38 L112.08,216.11 L113.40,215.83 L114.72,215.55 L116.03,215.27 L117.35,214.99 L118.67,214.71 L119.99,214.43 L121.31,214.14 L122.62,213.85 L123.94,213.56 L125.26,213.27 L126.58,212.98 L127.90,212.69 L129.21,212.39 L130.53,212.10 L131.85,211.80 L133.17,211.50 L134.49,211.20 L135.80,210.89 L137.12,210.59 L138.44,210.28 L139.76,209.97 L141.08,209.66 L142.39,209.35 L143.71,209.04 L145.03,208.72 L146.35,208.40 L147.67,208.08 L148.98,207.76 L150.30,207.43 L151.62,207.11 L152.94,206.78 L154.26,206.45 L155.57,206.11 L156.89,205.78 L158.21,205.44 L159.53,205.10 L160.85,204.76 L162.16,204.41 L163.48,204.06 L164.80,203.71 L166.12,203.36 L167.44,203.01 L168.75,202.65 L170.07,202.29 L171.39,201.93 L172.71,201.56 L174.03,201.20 L175.34,200.83 L176.66,200.46 L177.98,200.08 L179.30,199.70 L180.62,199.32 L181.93,198.94 L183.25,198.55 L184.57,198.16 L185.89,197.77 L187.21,197.37 L188.52,196.98 L189.84,196.57 L191.16,196.17 L192.48,195.76 L193.79,195.35 L195.11,194.94 L196.43,194.52 L197.75,194.10 L199.07,193.68 L200.38,193.25 L201.70,192.82 L203.02,192.39 L204.34,191.95 L205.66,191.51 L206.97,191.07 L208.29,190.62 L209.61,190.17 L210.93,189.72 L212.25,189.26 L213.56,188.79 L214.88,188.33 L216.20,187.86 L217.52,187.39 L218.84,186.91 L220.15,186.43 L221.47,185.94 L222.79,185.45 L224.11,184.96 L225.43,184.46 L226.74,183.95 L228.06,183.45 L229.38,182.93 L230.70,182.42 L232.02,181.90 L233.33,181.37 L234.65,180.84 L235.97,180.30 L237.29,179.76 L238.61,179.22 L239.92,178.66 L241.24,178.11 L242.56,177.54 L243.88,176.98 L245.20,176.40 L246.51,175.82 L247.83,175.24 L249.15,174.64 L250.47,174.04 L251.79,173.44 L253.10,172.83 L254.42,172.21 L255.74,171.58 L257.06,170.95 L258.38,170.31 L259.69,169.66 L261.01,169.00 L262.33,168.34 L263.65,167.66 L264.97,166.98 L266.28,166.29 L267.60,165.59 L268.92,164.88 L270.24,164.16 L271.56,163.43 L272.87,162.68 L274.19,161.93 L275.51,161.16 L276.83,160.39 L278.15,159.60 L279.46,158.79 L280.78,157.98 L282.10,157.15 L283.42,156.30 L284.74,155.44 L286.05,154.56 L287.37,153.67 L288.69,152.76 L290.01,151.83 L291.33,150.88 L292.64,149.91 L293.96,148.92 L295.28,147.91 L296.60,146.88 L297.92,145.82 L299.23,144.74 L300.55,143.63 L301.87,142.49 L303.19,141.33 L304.51,140.13 L305.82,138.91 L307.14,137.65 L308.46,136.35 L309.78,135.02 L311.10,133.65 L312.41,132.24 L313.73,130.78 L315.05,129.28 L316.37,127.73 L316.50,127.57 L317.69,126.13 L319.00,124.47 L319.98,123.20 L320.32,122.75 L321.64,120.97 L322.96,119.11 L323.08,118.94 L324.28,117.17 L325.59,115.15 L325.83,114.78 L326.91,113.03 L328.23,110.79 L328.28,110.70 L329.55,108.42 L330.46,106.69 L330.87,105.89 L332.18,103.17 L332.40,102.71 L333.50,100.22 L334.12,98.73 L334.82,96.97 L335.65,94.73 L336.14,93.35 L337.02,90.68 L337.46,89.25 L338.23,86.56 L338.77,84.54 L339.31,82.39 L340.09,79.00 L340.27,78.17 L341.12,73.92 L341.41,72.37 L341.88,69.65 L342.56,65.41 L342.73,64.28 L343.16,61.22 L343.70,57.12 L344.05,54.21 L344.17,53.13 L344.59,49.28 L344.97,45.60 L345.31,42.09 L345.36,41.46 L345.60,38.78 L345.87,35.67 L346.10,32.76 L346.31,30.06 L346.50,27.56 L346.67,25.25 L346.68,25.01 L346.81,23.13 L346.94,21.19 L347.06,19.43 L347.16,17.82 L347.26,16.35 L347.34,15.03 L347.41,13.83 L347.48,12.75 L347.53,11.78 L347.59,10.91 L347.63,10.12 L347.67,9.41 L347.71,8.78 L347.74,8.21 L347.77,7.70 L347.79,7.25 L347.82,6.84 L347.84,6.48 L347.86,6.16 L347.87,5.87 L347.89,5.61 L347.90,5.38 L347.91,5.17 L347.92,4.99 L347.93,4.83 L347.94,4.68 L347.94,4.55 L347.95,4.44 L347.96,4.33 L347.96,4.24 L347.96,4.16 L347.97,4.09 L348.00,3.50" stroke="#4ad424" stroke-width="2.0" stroke-dasharray="6.5 5.5" fill="none"/>
</g>
<path d="M46,27.9 H84.3" stroke="#5a5a5a" stroke-width="1.3"/>
<path d="M46,37.3 H85.4" stroke="#555" stroke-width="1.3" stroke-dasharray="3.4 2.9"/>
<g font-family="Liberation Sans" font-size="9.8" fill="#3a3a3a" stroke="#3a3a3a" stroke-width="0.1"><text transform="translate(89.6,26.3) scale(1,1.1)">MWCNTs - water</text><text transform="translate(89.6,39.7) scale(1,1.1)">SWCNTs - water</text></g>
<text transform="translate(77.9,77) skewX(-5) scale(1.1,1)" x="0" y="0" font-family="Liberation Serif" font-style="italic" font-size="14" fill="#1e1e1e">&#952;</text>
<text transform="translate(85.1,83.9) scale(1,1.16)" x="0" y="0" font-family="Liberation Sans" font-size="9.5" fill="#1e1e1e" stroke="#1e1e1e" stroke-width="0.1">w</text>
<g transform="translate(0,77.3) scale(1,1.13)" fill="#1e1e1e" stroke="#1e1e1e" stroke-width="0.12"><text y="0" font-family="Liberation Sans" font-size="12.5"><tspan x="97.00">=</tspan><tspan x="115.96">.</tspan><tspan x="127.20">,</tspan><tspan x="142.06">.</tspan><tspan x="146.40">5</tspan><tspan x="157.20">,</tspan><tspan x="164.60">2</tspan><tspan x="176.30">,</tspan><tspan x="184.30">3</tspan></text><path d="M114.05,0 L114.05,-8.79 L113.32,-8.79 C113.10,-7.88 112.35,-7.31 110.72,-7.12 L110.72,-6.38 L113.05,-6.38 L113.05,0 Z M124.55,0 L124.55,-8.79 L123.82,-8.79 C123.60,-7.88 122.85,-7.31 121.22,-7.12 L121.22,-6.38 L123.55,-6.38 L123.55,0 Z M140.45,0 L140.45,-8.79 L139.72,-8.79 C139.50,-7.88 138.75,-7.31 137.12,-7.12 L137.12,-6.38 L139.45,-6.38 L139.45,0 Z"/></g>
<path d="M158,88 L221.3,207.8" stroke="#555" stroke-width="1"/>
<path d="M223.5,212.2 L217,206.1 L220.7,207.3 L223.1,203.2 Z" fill="#111" stroke="#111" stroke-width="0.6"/>
<g transform="translate(190.9,261.4)"><path d="M-3.7,-4.0 C-2.0,-5.2 -0.9,-3.6 -0.3,-1.0 C0.4,1.9 1.4,4.0 3.7,4.5" stroke="#4a4a4a" stroke-width="1.1" fill="none" stroke-linecap="round"/><path d="M4.1,-4.3 L-4.2,4.6" stroke="#606060" stroke-width="0.75" fill="none"/></g>
<g transform="translate(10.2,114.3) rotate(-90) scale(0.88)"><path d="M-3.7,-4.0 C-2.0,-5.2 -0.9,-3.6 -0.3,-1.0 C0.4,1.9 1.4,4.0 3.7,4.5" stroke="#4a4a4a" stroke-width="1.1" fill="none" stroke-linecap="round"/><path d="M4.1,-4.3 L-4.2,4.6" stroke="#606060" stroke-width="0.75" fill="none"/></g>
<text transform="translate(12.2,0) rotate(-90)" y="0" font-family="Liberation Serif" font-style="italic" font-size="14" fill="#3a3a3a"><tspan x="-130.7">&#952;</tspan><tspan x="-123.5">(</tspan><tspan x="-109.3">)</tspan></text>
</svg>
</body></html>
